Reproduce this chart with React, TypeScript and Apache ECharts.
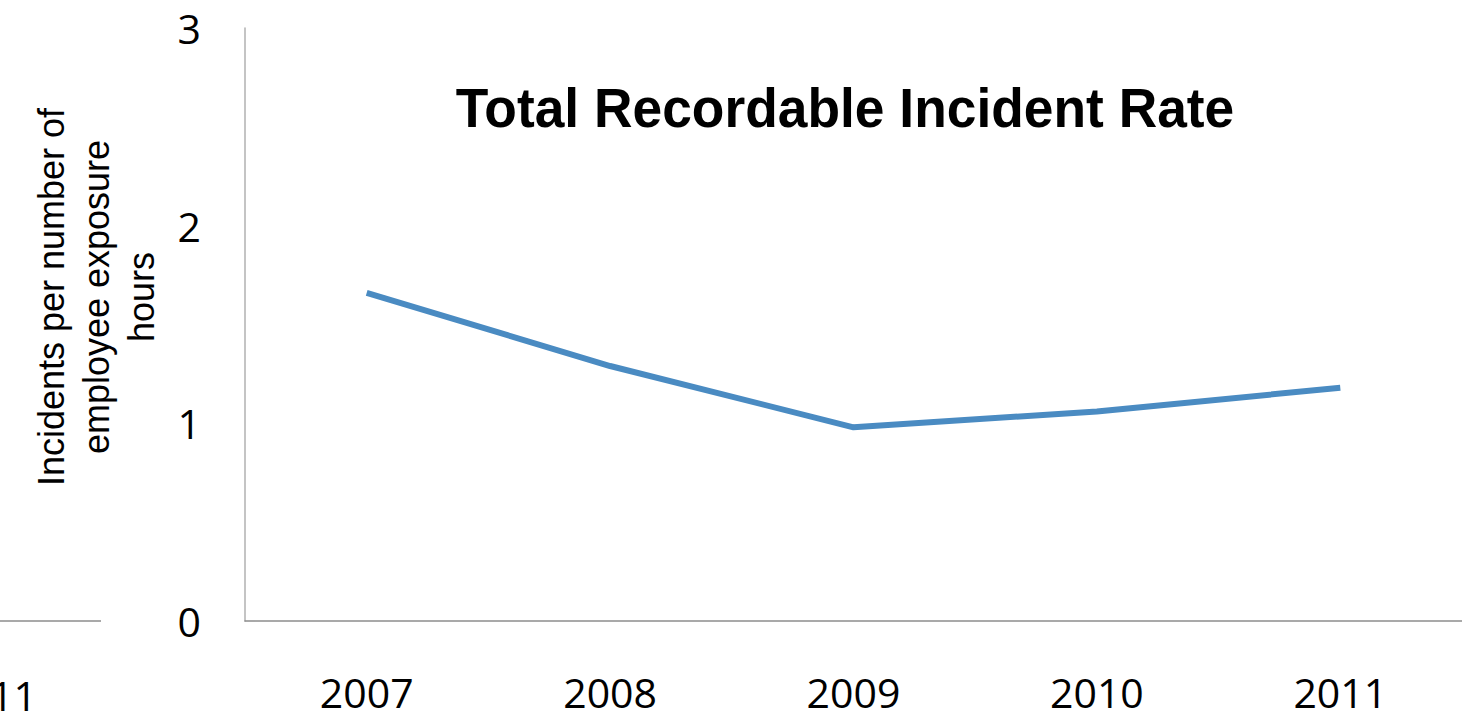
import React, { useEffect, useRef } from "react";
import * as echarts from "echarts";

const categories = ["2007", "2008", "2009", "2010", "2011"];
const incidentRate = [1.66, 1.29, 0.98, 1.06, 1.18];
const yTicks = [0, 1, 2, 3];
const titleText = "Total Recordable Incident Rate";
const yNameLines = ["Incidents per number of", "employee exposure", "hours"];
const leftPartialLabel = "2011";

const labelFont = "Open Sans, Lato, sans-serif";

export default function App() {
  const ref = useRef<HTMLDivElement>(null);
  useEffect(() => {
    if (!ref.current) return;
    const chart = echarts.init(ref.current, null, { renderer: "svg" });
    chart.setOption({
      animation: false,
      backgroundColor: "#ffffff",
      grid: { left: 245, right: 0, top: 28, bottom: 100, containLabel: false },
      xAxis: {
        type: "category",
        data: categories,
        boundaryGap: true,
        axisLine: { show: true, lineStyle: { color: "#8c8c8c", width: 1.5 } },
        axisTick: { show: false },
        axisLabel: {
          color: "#000",
          fontFamily: labelFont,
          fontSize: 41,
          margin: 50,
        },
        splitLine: { show: false },
      },
      yAxis: {
        type: "value",
        min: yTicks[0],
        max: yTicks[yTicks.length - 1],
        interval: 1,
        axisLine: { show: true, lineStyle: { color: "#b0b0b0", width: 1.5 } },
        axisTick: { show: false },
        splitLine: { show: false },
        axisLabel: {
          color: "#000",
          fontFamily: labelFont,
          fontSize: 41,
          margin: 44,
        },
      },
      series: [
        {
          type: "line",
          data: incidentRate,
          symbol: "none",
          lineStyle: { color: "#4a8bc2", width: 6 },
        },
      ],
      graphic: [
        {
          type: "text",
          x: 845,
          y: 108,
          scaleX: 0.97,
          style: {
            text: titleText,
            fontFamily: "Liberation Sans, Arial, sans-serif",
            fontWeight: "bold",
            fontSize: 55,
            fill: "#000",
            textAlign: "center",
            textVerticalAlign: "middle",
          },
        },
        {
          type: "text",
          x: 96,
          y: 297,
          rotation: Math.PI / 2,
          style: {
            text: yNameLines.join("\n"),
            fontFamily: "Liberation Sans, Arial, sans-serif",
            fontSize: 36,
            lineHeight: 45,
            fill: "#000",
            textAlign: "center",
            textVerticalAlign: "middle",
          },
        },
        {
          type: "line",
          shape: { x1: 0, y1: 621, x2: 101, y2: 621 },
          style: { stroke: "#8c8c8c", lineWidth: 1.5 },
        },
        {
          type: "text",
          x: 37,
          y: 695,
          style: {
            text: leftPartialLabel,
            fontFamily: labelFont,
            fontSize: 41,
            fill: "#000",
            textAlign: "right",
            textVerticalAlign: "middle",
          },
        },
      ],
    });
    return () => chart.dispose();
  }, []);
  return (
    <div
      ref={ref}
      style={{ position: "fixed", left: 0, top: 0, width: 1462, height: 721 }}
    />
  );
}
